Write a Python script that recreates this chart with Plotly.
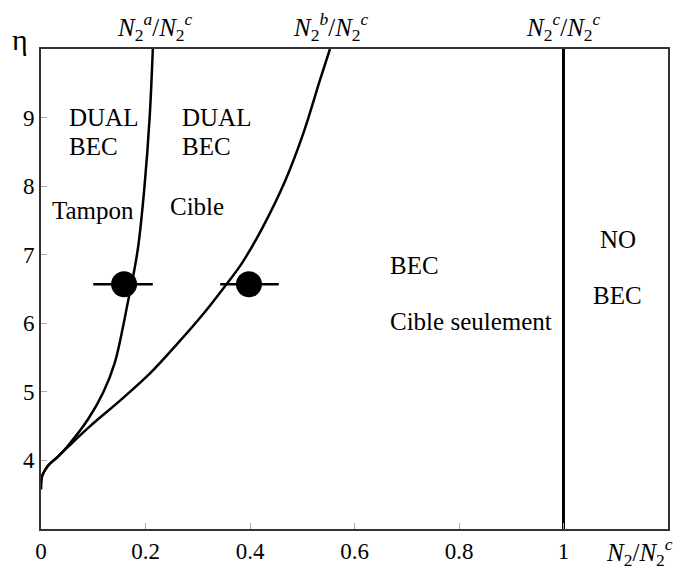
import plotly.graph_objects as go

# Curve N2^a / N2^c (buffer boundary)
curve_a_x = [0.0, 0.002, 0.013, 0.033, 0.050, 0.090, 0.119, 0.141, 0.157, 0.166, 0.175, 0.186, 0.198, 0.208, 0.214]
curve_a_y = [3.58, 3.77, 3.92, 4.06, 4.20, 4.60, 4.99, 5.42, 5.95, 6.30, 6.63, 7.12, 7.99, 9.01, 10.0]

# Curve N2^b / N2^c (target boundary)
curve_b_x = [0.0, 0.002, 0.013, 0.033, 0.052, 0.094, 0.154, 0.210, 0.262, 0.312, 0.355, 0.384, 0.425, 0.468, 0.502, 0.534, 0.553]
curve_b_y = [3.58, 3.77, 3.92, 4.06, 4.20, 4.50, 4.89, 5.28, 5.71, 6.15, 6.57, 6.87, 7.41, 8.09, 8.77, 9.55, 10.0]

# Critical line N2^c / N2^c
crit_x = [1.0, 1.0]
crit_y = [3.0, 10.0]

# Experimental points
pts_x = [0.159, 0.398]
pts_y = [6.57, 6.57]
pts_err_minus = [0.059, 0.055]
pts_err_plus = [0.055, 0.057]

x_tickvals = [0, 0.2, 0.4, 0.6, 0.8, 1.0]
x_ticktext = ["0", "0.2", "0.4", "0.6", "0.8", "1"]
y_tickvals = [4, 5, 6, 7, 8, 9]
y_ticktext = ["4", "5", "6", "7", "8", "9"]

# Region labels: (text, x, y, anchor)
region_labels = [
    ("DUAL", 0.050, 9.0, "left"),
    ("BEC", 0.050, 8.575, "left"),
    ("Tampon", 0.0166, 7.65, "left"),
    ("DUAL", 0.266, 9.0, "left"),
    ("BEC", 0.266, 8.575, "left"),
    ("Cible", 0.244, 7.70, "left"),
    ("BEC", 0.664, 6.85, "left"),
    ("Cible seulement", 0.664, 6.02, "left"),
    ("NO", 1.104, 7.22, "center"),
    ("BEC", 1.104, 6.40, "center"),
]

# Top boundary labels: (text, x)
top_labels = [
    ("<i>N</i><sub>2</sub><sup><i>a</i></sup>/<i>N</i><sub>2</sub><sup><i>c</i></sup>", 0.218),
    ("<i>N</i><sub>2</sub><sup><i>b</i></sup>/<i>N</i><sub>2</sub><sup><i>c</i></sup>", 0.555),
    ("<i>N</i><sub>2</sub><sup><i>c</i></sup>/<i>N</i><sub>2</sub><sup><i>c</i></sup>", 1.0),
]

FONT = "Liberation Serif, Times New Roman, serif"

fig = go.Figure()
fig.add_trace(go.Scatter(x=curve_a_x, y=curve_a_y, mode="lines",
                         line=dict(color="black", width=2.5, shape="spline", smoothing=1.0),
                         showlegend=False, hoverinfo="skip"))
fig.add_trace(go.Scatter(x=curve_b_x, y=curve_b_y, mode="lines",
                         line=dict(color="black", width=2.5, shape="spline", smoothing=1.0),
                         showlegend=False, hoverinfo="skip"))
fig.add_trace(go.Scatter(x=crit_x, y=crit_y, mode="lines",
                         line=dict(color="black", width=3),
                         showlegend=False, hoverinfo="skip"))
fig.add_trace(go.Scatter(x=pts_x, y=pts_y, mode="markers",
                         marker=dict(color="black", size=26),
                         error_x=dict(type="data", symmetric=False, array=pts_err_plus,
                                      arrayminus=pts_err_minus, color="black", thickness=2.5, width=0),
                         showlegend=False))

for text, x, y, anchor in region_labels:
    fig.add_annotation(x=x, y=y, xref="x", yref="y", text=text, showarrow=False,
                       xanchor=anchor, yanchor="middle",
                       font=dict(family=FONT, size=25, color="black"))

for text, x in top_labels:
    fig.add_annotation(x=x, y=1.045, xref="x", yref="paper", text=text, showarrow=False,
                       xanchor="center", yanchor="middle",
                       font=dict(family=FONT, size=25, color="black"))

fig.add_annotation(x=1.146, y=-0.048, xref="x", yref="paper",
                   text="<i>N</i><sub>2</sub>/<i>N</i><sub>2</sub><sup><i>c</i></sup>",
                   showarrow=False, xanchor="center", yanchor="middle",
                   font=dict(family=FONT, size=25, color="black"))
fig.add_annotation(x=-0.034, y=1.02, xref="paper", yref="paper", text="η", showarrow=False,
                   xanchor="center", yanchor="middle",
                   font=dict(family=FONT, size=30, color="black"))

fig.update_xaxes(range=[0, 1.2], tickvals=x_tickvals, ticktext=x_ticktext,
                 showgrid=False, zeroline=False, showline=True, mirror=True,
                 linecolor="#333333", linewidth=2, ticks="inside", ticklen=6,
                 tickcolor="#aaaaaa", tickfont=dict(family=FONT, size=23, color="black"))
fig.update_yaxes(range=[3, 10], tickvals=y_tickvals, ticktext=y_ticktext,
                 showgrid=False, zeroline=False, showline=True, mirror=True,
                 linecolor="#333333", linewidth=2, ticks="inside", ticklen=6,
                 tickcolor="#aaaaaa", tickfont=dict(family=FONT, size=23, color="black"))

fig.update_layout(width=678, height=568, margin=dict(l=33, r=18, t=41, b=47),
                  plot_bgcolor="white", paper_bgcolor="white",
                  font=dict(family=FONT))

fig.write_html("out.html")
